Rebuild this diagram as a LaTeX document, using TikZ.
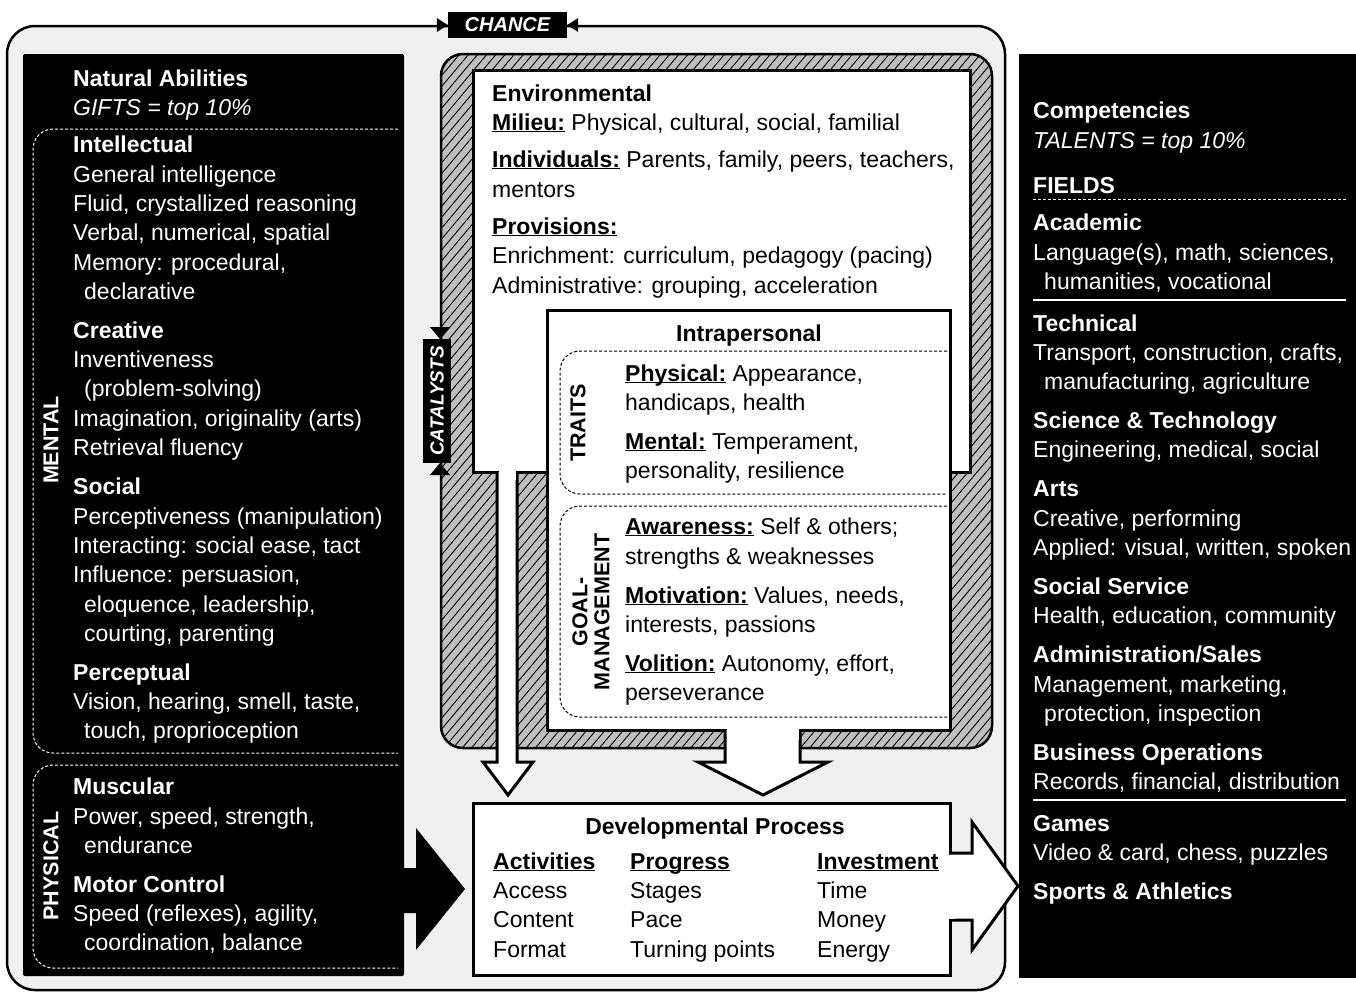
\documentclass[tikz,border=0pt]{standalone}
\usepackage{fontspec}
\setmainfont{Liberation Sans}
\usetikzlibrary{patterns.meta}
\newcommand\uln[1]{\underline{\smash{\textbf{#1}}}}
\begin{document}
\begin{tikzpicture}[x=1pt,y=-1pt,
  wt/.style={anchor=base west,inner sep=0pt,text=white,font=\fontsize{23}{29}\selectfont},
  bt/.style={anchor=base west,inner sep=0pt,text=black,font=\fontsize{23}{29}\selectfont},
  rotlab/.style={rotate=90,inner sep=0pt,align=center,font=\fontsize{21.5}{22}\selectfont\bfseries},
  whitebox/.style={draw=black,line width=3pt,fill=white},
  wdash/.style={draw=white,line width=1pt,dash pattern=on 3pt off 2pt},
  bdash/.style={draw=black,line width=1pt,dash pattern=on 3pt off 2pt},
  blk/.style={draw=black,line width=3pt,fill=white,line join=miter},
]
\useasboundingbox (0,0) rectangle (1356,994);

% outer gray frame
\draw[line width=2.5pt,fill=gray!12,rounded corners=28pt] (7,26) rectangle (1005,990);

% CHANCE
\node[fill=black,minimum width=119pt,minimum height=26pt,inner sep=0pt,text=white,
      font=\fontsize{20}{20}\selectfont\bfseries\itshape] (chance) at (507.5,25) {CHANCE};
\fill (chance.west) -- ++(-11,-7) -- ++(0,14) -- cycle;
\fill (chance.east) -- ++(11,-7) -- ++(0,14) -- cycle;

% left black panel
\fill[black,rounded corners=2pt] (23,54) rectangle (404,976);
\draw[wdash,rounded corners=20pt] (398,129) -- (33,129) -- (33,753) -- (398,753);
\draw[wdash,rounded corners=20pt] (398,765) -- (33,765) -- (33,968) -- (398,968);
\node[rotlab,text=white] (mental) at (51,440) {MENTAL};
\node[rotlab,text=white] (physical) at (51,866) {PHYSICAL};

\node[wt] (na) at (73,86) {\textbf{Natural Abilities}};
\node[wt] (gifts) at (73,115) {\textit{GIFTS = top 10\%}};
\node[wt] (int) at (73,152) {\textbf{Intellectual}};
\node[wt] (l1) at (73,182) {General intelligence};
\node[wt] (l2) at (73,211) {Fluid, crystallized reasoning};
\node[wt] (l3) at (73,240) {Verbal, numerical, spatial};
\node[wt] (l4) at (73,270) {Memory: procedural,};
\node[wt] (l5) at (84,299) {declarative};
\node[wt] (cre) at (73,338) {\textbf{Creative}};
\node[wt] (l6) at (73,367) {Inventiveness};
\node[wt] (l7) at (84,396) {(problem-solving)};
\node[wt] (l8) at (73,426) {Imagination, originality (arts)};
\node[wt] (l9) at (73,455) {Retrieval fluency};
\node[wt] (soc) at (73,494) {\textbf{Social}};
\node[wt] (l10) at (73,524) {Perceptiveness (manipulation)};
\node[wt] (l11) at (73,553) {Interacting: social ease, tact};
\node[wt] (l12) at (73,582) {Influence: persuasion,};
\node[wt] (l13) at (84,612) {eloquence, leadership,};
\node[wt] (l14) at (84,641) {courting, parenting};
\node[wt] (per) at (73,680) {\textbf{Perceptual}};
\node[wt] (l15) at (73,709) {Vision, hearing, smell, taste,};
\node[wt] (l16) at (84,738) {touch, proprioception};
\node[wt] (mus) at (73,794) {\textbf{Muscular}};
\node[wt] (l17) at (73,824) {Power, speed, strength,};
\node[wt] (l18) at (84,853) {endurance};
\node[wt] (mot) at (73,892) {\textbf{Motor Control}};
\node[wt] (l19) at (73,921) {Speed (reflexes), agility,};
\node[wt] (l20) at (84,950) {coordination, balance};

% catalysts hatched region
\draw[line width=2.5pt,rounded corners=22pt,preaction={fill=gray!50},
      pattern={Lines[angle=50,distance=7pt,line width=0.9pt]}] (441,54) rectangle (992,748);
\node[fill=black,rotate=90,minimum width=124pt,minimum height=28pt,inner sep=0pt,text=white,
      font=\fontsize{19}{19}\selectfont\bfseries\itshape] (cat) at (437,401) {CATALYSTS};
\fill (430,327) -- (450,327) -- (440,339) -- cycle;
\fill (430,475) -- (450,475) -- (440,463) -- cycle;

% environmental box
\draw[whitebox] (473,70) rectangle (970,472);
% intrapersonal box
\draw[whitebox] (547,310) rectangle (950,730);

% small arrow from environmental
\draw[blk] (497,472) -- (497,762) -- (483,762) -- (508,795) -- (533,762) -- (517,762) -- (517,472);
\fill[white] (498.5,466) rectangle (515.5,480);
% big arrow from intrapersonal
\draw[blk] (725,730) -- (725,762) -- (698,762) -- (763,795) -- (828,762) -- (800,762) -- (800,730);
\fill[white] (726.5,724) rectangle (798.5,740);

\node[bt] (env) at (492,101) {\textbf{Environmental}};
\node[bt] (mil) at (492,130) {\uln{Milieu:} Physical, cultural, social, familial};
\node[bt] (ind) at (492,167) {\uln{Individuals:} Parents, family, peers, teachers,};
\node[bt] (ind2) at (492,197) {mentors};
\node[bt] (prov) at (492,234) {\uln{Provisions:}};
\node[bt] (enr) at (492,263) {Enrichment: curriculum, pedagogy (pacing)};
\node[bt] (adm) at (492,293) {Administrative: grouping, acceleration};

\node[anchor=base,inner sep=0pt,font=\fontsize{23}{29}\selectfont\bfseries] (intra) at (749,341) {Intrapersonal};
\draw[bdash,rounded corners=20pt] (947,351) -- (560,351) -- (560,494) -- (947,494);
\draw[bdash,rounded corners=20pt] (947,506) -- (560,506) -- (560,717) -- (947,717);
\node[rotlab] (traits) at (578,423) {TRAITS};
\node[rotlab] (goal) at (591,612) {GOAL-\\MANAGEMENT};
\node[bt] (p1) at (625,381) {\uln{Physical:} Appearance,};
\node[bt] (p2) at (625,410) {handicaps, health};
\node[bt] (p3) at (625,449) {\uln{Mental:} Temperament,};
\node[bt] (p4) at (625,478) {personality, resilience};
\node[bt] (p5) at (625,534) {\uln{Awareness:} Self \& others;};
\node[bt] (p6) at (625,564) {strengths \& weaknesses};
\node[bt] (p7) at (625,603) {\uln{Motivation:} Values, needs,};
\node[bt] (p8) at (625,632) {interests, passions};
\node[bt] (p9) at (625,671) {\uln{Volition:} Autonomy, effort,};
\node[bt] (p10) at (625,700) {perseverance};

% developmental process
\draw[whitebox] (473,803) rectangle (950,975);
\draw[blk] (950,853) -- (972,853) -- (972,822) -- (1018,886) -- (972,950) -- (972,920) -- (950,920);
\fill[white] (945,854.5) rectangle (955,918.5);
\node[anchor=base,inner sep=0pt,font=\fontsize{23}{29}\selectfont\bfseries] (dev) at (715,834) {Developmental Process};
\node[bt] (c1) at (493,869) {\uln{Activities}};
\node[bt] (c2) at (630,869) {\uln{Progress}};
\node[bt] (c3) at (817,869) {\uln{Investment}};
\node[bt] (d1) at (493,898) {Access};
\node[bt] (d2) at (630,898) {Stages};
\node[bt] (d3) at (817,898) {Time};
\node[bt] (e1) at (493,927) {Content};
\node[bt] (e2) at (630,927) {Pace};
\node[bt] (e3) at (817,927) {Money};
\node[bt] (f1) at (493,957) {Format};
\node[bt] (f2) at (630,957) {Turning points};
\node[bt] (f3) at (817,957) {Energy};

% black arrow
\fill (404,868) -- (416,868) -- (416,828) -- (465,889) -- (416,950) -- (416,913) -- (404,913) -- cycle;

% right panel
\fill[black] (1019,54) rectangle (1356,978);
\node[wt] (comp) at (1033,118) {\textbf{Competencies}};
\node[wt] (tal) at (1033,148) {\textit{TALENTS = top 10\%}};
\node[wt] (fields) at (1033,193) {\textbf{FIELDS}};
\draw[wdash] (1033,199) -- (1346,199);
\node[wt] (r1) at (1033,230) {\textbf{Academic}};
\node[wt] (r2) at (1033,260) {Language(s), math, sciences,};
\node[wt] (r3) at (1044,289) {humanities, vocational};
\draw[white,line width=1.2pt] (1033,300) -- (1346,300);
\node[wt] (r4) at (1033,331) {\textbf{Technical}};
\node[wt] (r5) at (1033,360) {Transport, construction, crafts,};
\node[wt] (r6) at (1044,389) {manufacturing, agriculture};
\node[wt] (r7) at (1033,428) {\textbf{Science \& Technology}};
\node[wt] (r8) at (1033,457) {Engineering, medical, social};
\node[wt] (r9) at (1033,496) {\textbf{Arts}};
\node[wt] (r10) at (1033,526) {Creative, performing};
\node[wt] (r11) at (1033,555) {Applied: visual, written, spoken};
\node[wt] (r12) at (1033,594) {\textbf{Social Service}};
\node[wt] (r13) at (1033,623) {Health, education, community};
\node[wt] (r14) at (1033,662) {\textbf{Administration/Sales}};
\node[wt] (r15) at (1033,692) {Management, marketing,};
\node[wt] (r16) at (1044,721) {protection, inspection};
\node[wt] (r17) at (1033,760) {\textbf{Business Operations}};
\node[wt] (r18) at (1033,789) {Records, financial, distribution};
\draw[white,line width=1.2pt] (1033,800) -- (1346,800);
\node[wt] (r19) at (1033,831) {\textbf{Games}};
\node[wt] (r20) at (1033,860) {Video \& card, chess, puzzles};
\node[wt] (r21) at (1033,899) {\textbf{Sports \& Athletics}};
\end{tikzpicture}
\end{document}
